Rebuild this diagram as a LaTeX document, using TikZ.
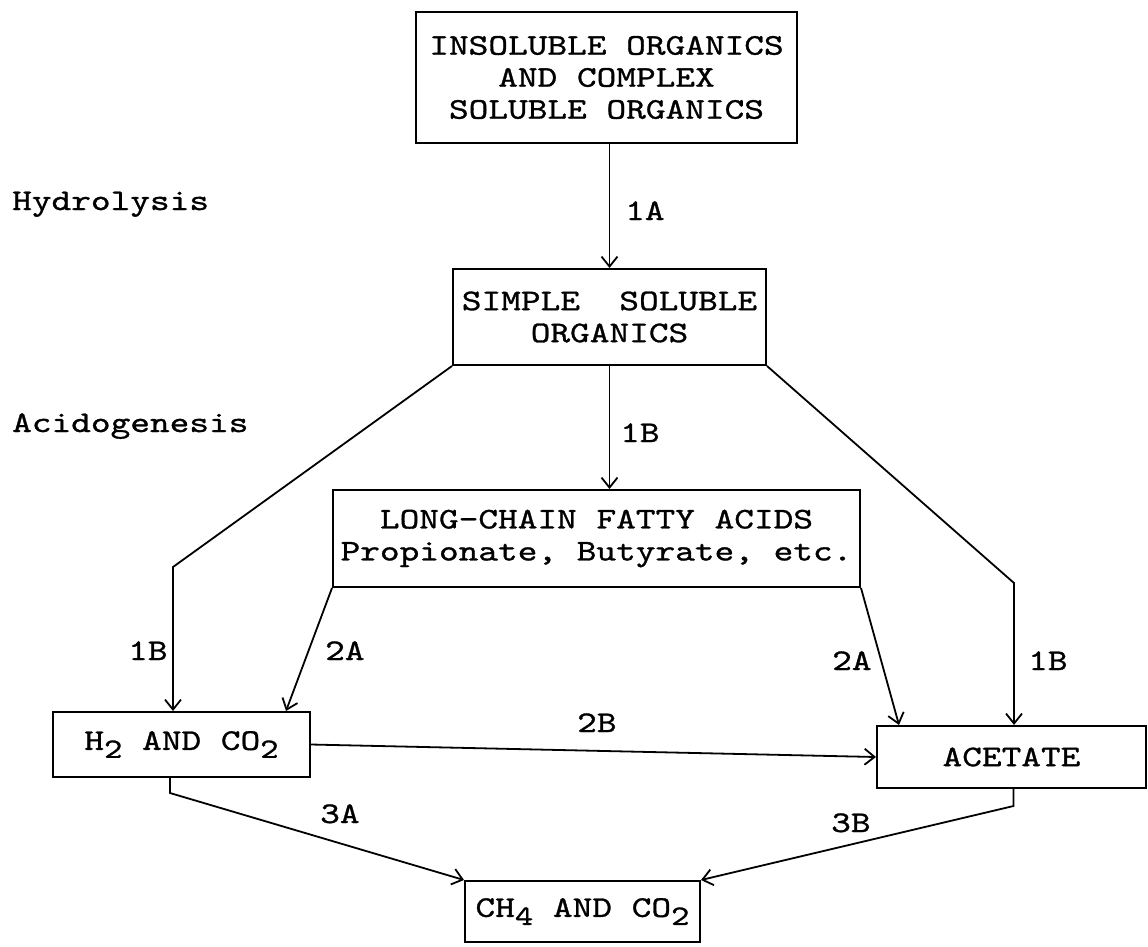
\documentclass[tikz,border=0pt]{standalone}
\usepackage{fontspec}
\newfontfamily\tw{lmmono10-regular.otf}[FakeStretch=1.25,FakeBold=1]
\usetikzlibrary{arrows.meta}
\newcommand\lowsub[1]{\raisebox{-8pt}{\fontsize{28}{28}\selectfont #1}}
\begin{document}
\begin{tikzpicture}[x=1pt,y=-1pt,
  box/.style={draw,line width=2pt,rectangle,inner sep=0pt,
    font=\tw\fontsize{30}{32}\selectfont,align=center},
  conn/.style={line width=1.8pt,-{Straight Barb[length=10pt,width=16pt,line width=1.8pt]}},
  lbl/.style={font=\tw\fontsize{30}{32}\selectfont,anchor=base west,inner sep=0pt}]
\useasboundingbox (0,0) rectangle (1148,946);
% boxes
\node[box,minimum width=381pt,minimum height=131pt] (top) at (606.5,77.5)
  {INSOLUBLE ORGANICS\\AND COMPLEX\\SOLUBLE ORGANICS};
\node[box,minimum width=313pt,minimum height=96pt] (simple) at (609.5,317)
  {SIMPLE\ \ SOLUBLE\\ORGANICS};
\node[box,minimum width=527pt,minimum height=97pt] (long) at (596.5,538.5)
  {LONG-CHAIN FATTY ACIDS\\Propionate, Butyrate, etc.};
\node[box,minimum width=257pt,minimum height=65pt] (h2) at (181.5,744.5)
  {H\lowsub{2} AND CO\lowsub{2}};
\node[box,minimum width=269pt,minimum height=62pt] (acetate) at (1011.5,757)
  {ACETATE};
\node[box,minimum width=235pt,minimum height=61pt] (ch4) at (582.5,911.5)
  {CH\lowsub{4} AND CO\lowsub{2}};
% bend points
\coordinate (cL) at (173,567);
\coordinate (cR) at (1014,583);
% connectors
\draw[conn] (simple.north |- top.south) -- (simple.north);
\draw[conn] (simple.south) -- (simple.south |- long.north);
\draw[conn] (simple.south west) -- (cL) -- (cL |- h2.north);
\draw[conn] (simple.south east) -- (cR) -- (cR |- acetate.north);
\draw[conn] (long.south west) -- ([xshift=-25pt]h2.north east);
\draw[conn] (long.south east) -- ([xshift=23pt]acetate.north west);
\draw[conn] (h2.east) -- (acetate.west);
\draw[conn] ([xshift=-11.5pt]h2.south) -- ([xshift=-11.5pt,yshift=-15pt]h2.south) -- (ch4.north west);
\draw[conn] ([xshift=2pt]acetate.south) -- ([xshift=2pt,yshift=-17pt]acetate.south) -- (ch4.north east);
% labels
\node[lbl] (hyd) at (12,210) {Hydrolysis};
\node[lbl] (acid) at (12,432) {Acidogenesis};
\node[lbl] (l1a) at (625,220) {1A};
\node[lbl] (l1bm) at (620,442) {1B};
\node[lbl] (l1bl) at (128,660) {1B};
\node[lbl] (l2al) at (325,660) {2A};
\node[lbl] (l2ar) at (832,670) {2A};
\node[lbl] (l1br) at (1028,670) {1B};
\node[lbl] (l2b) at (577,732) {2B};
\node[lbl] (l3a) at (320,823) {3A};
\node[lbl] (l3b) at (831,832) {3B};
\end{tikzpicture}
\end{document}
